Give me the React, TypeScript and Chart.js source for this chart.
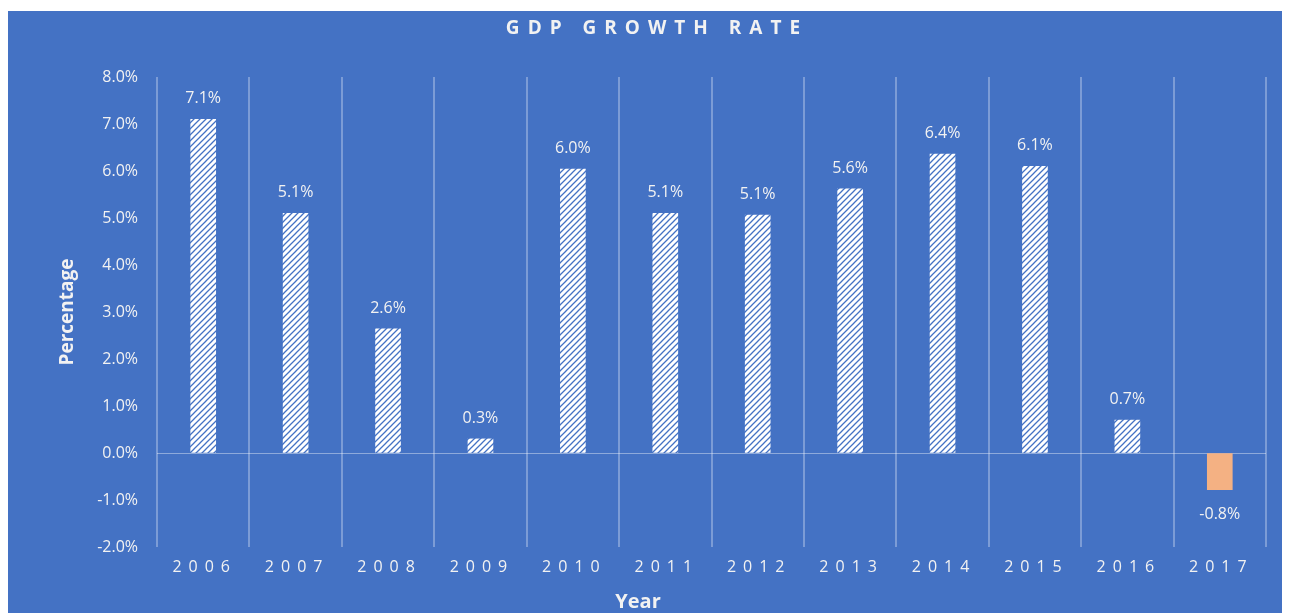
import React, { useEffect, useRef } from 'react';
import { Chart, registerables, CategoryScale } from 'chart.js';

Chart.register(...registerables);

class SpacedCategoryScale extends CategoryScale {
  static id = 'spacedCategory';
  static defaults = CategoryScale.defaults;
  drawLabels(chartArea: any) {
    const ctx = (this as any).ctx as CanvasRenderingContext2D;
    const sp = 7;
    ctx.save();
    (ctx as any).letterSpacing = sp + 'px';
    ctx.translate(1.5, 0);
    super.drawLabels(chartArea);
    ctx.restore();
  }
}
Chart.register(SpacedCategoryScale);

const years = ['2006', '2007', '2008', '2009', '2010', '2011', '2012', '2013', '2014', '2015', '2016', '2017'];
const growthRate = [7.1, 5.1, 2.64, 0.3, 6.04, 5.1, 5.06, 5.62, 6.36, 6.1, 0.7, -0.78];
const yMin = -2;
const yMax = 8;
const yStep = 1;
const chartTitle = 'GDP GROWTH RATE';
const xTitle = 'Year';
const yTitle = 'Percentage';

const BG = '#4472C4';
const TEXT = '#F2F2F2';
const FONT = '"Open Sans", "Noto Sans", sans-serif';

function makePattern(): CanvasPattern | string {
  const c = document.createElement('canvas');
  const s = 6;
  c.width = s;
  c.height = s;
  const g = c.getContext('2d');
  if (!g) return '#ffffff';
  g.fillStyle = '#ffffff';
  g.fillRect(0, 0, s, s);
  g.strokeStyle = BG;
  g.lineWidth = 1.3;
  g.beginPath();
  g.moveTo(-1, s + 1);
  g.lineTo(s + 1, -1);
  g.moveTo(-1, 1);
  g.lineTo(1, -1);
  g.moveTo(s - 1, s + 1);
  g.lineTo(s + 1, s - 1);
  g.stroke();
  const p = g.createPattern(c, 'repeat');
  return p || '#ffffff';
}

const decorPlugin = {
  id: 'decor',
  beforeDraw(chart: any) {
    const ctx = chart.ctx as CanvasRenderingContext2D;
    ctx.save();
    ctx.fillStyle = BG;
    ctx.fillRect(0, 0, chart.width, chart.height);
    ctx.restore();
  },
  afterDraw(chart: any) {
    const ctx = chart.ctx as CanvasRenderingContext2D;
    // title
    ctx.save();
    ctx.fillStyle = TEXT;
    ctx.font = 'bold 19px ' + FONT;
    (ctx as any).letterSpacing = '8px';
    ctx.textAlign = 'center';
    ctx.textBaseline = 'alphabetic';
    ctx.fillText(chartTitle, 645 + 4, 23);
    ctx.restore();
    // y title
    ctx.save();
    ctx.fillStyle = TEXT;
    ctx.font = 'bold 19px ' + FONT;
    ctx.textAlign = 'center';
    ctx.textBaseline = 'middle';
    ctx.translate(60, 301);
    ctx.rotate(-Math.PI / 2);
    ctx.fillText(yTitle, 0, 0);
    ctx.restore();
    // x title
    ctx.save();
    ctx.fillStyle = TEXT;
    ctx.font = 'bold 20px ' + FONT;
    ctx.textAlign = 'center';
    ctx.textBaseline = 'alphabetic';
    ctx.fillText(xTitle, 630, 597);
    ctx.restore();
    // data labels
    const meta = chart.getDatasetMeta(0);
    ctx.save();
    ctx.fillStyle = TEXT;
    ctx.font = '16px ' + FONT;
    ctx.textAlign = 'center';
    ctx.textBaseline = 'alphabetic';
    meta.data.forEach((el: any, i: number) => {
      const v = growthRate[i];
      const txt = v.toFixed(1) + '%';
      if (v >= 0) {
        ctx.fillText(txt, el.x, el.y - 16);
      } else {
        ctx.fillText(txt, el.x, el.y + 29);
      }
    });
    ctx.restore();
  },
};

export default function App() {
  const ref = useRef<HTMLCanvasElement | null>(null);
  useEffect(() => {
    document.body.style.overflow = 'hidden';
    const canvas = ref.current;
    if (!canvas) return;
    const pattern = makePattern();
    const chart = new Chart(canvas, {
      type: 'bar',
      data: {
        labels: years,
        datasets: [
          {
            label: 'GDP growth rate',
            data: growthRate,
            backgroundColor: (c: any) => (growthRate[c.dataIndex] < 0 ? '#F4B183' : pattern),
            borderWidth: 0,
            barThickness: 25,
          },
        ],
      },
      options: {
        animation: false,
        responsive: false,
        maintainAspectRatio: false,
        layout: { padding: { top: 66, right: 24, bottom: 0, left: 0 } },
        plugins: {
          legend: { display: false },
          title: { display: false },
          tooltip: { enabled: false },
        },
        scales: {
          x: {
            type: 'spacedCategory' as any,
            offset: true,
            grid: {
              display: true,
              offset: true,
              color: 'rgba(255,255,255,0.3)',
              lineWidth: 2,
              drawTicks: false,
            },
            border: { display: false },
            ticks: {
              color: TEXT,
              font: { family: FONT, size: 16 },
              padding: 11,
              maxRotation: 0,
              autoSkip: false,
            },
            afterFit: (s: any) => {
              s.height = 66;
            },
          },
          y: {
            min: yMin,
            max: yMax,
            grid: {
              display: true,
              drawTicks: false,
              color: (c: any) => (c.tick && c.tick.value === 0 ? 'rgba(255,255,255,0.4)' : 'rgba(0,0,0,0)'),
              lineWidth: 1,
            },
            border: { display: false },
            ticks: {
              stepSize: yStep,
              color: TEXT,
              font: { family: FONT, size: 16 },
              padding: 19,
              callback: (v: any) => Number(v).toFixed(1) + '%',
            },
            afterFit: (s: any) => {
              s.width = 149;
            },
          },
        },
      } as any,
      plugins: [decorPlugin],
    });
    return () => chart.destroy();
  }, []);
  return (
    <div style={{ width: 1282, height: 602, marginTop: 3 }}>
      <canvas ref={ref} width={1282} height={602} style={{ display: 'block' }} />
    </div>
  );
}
